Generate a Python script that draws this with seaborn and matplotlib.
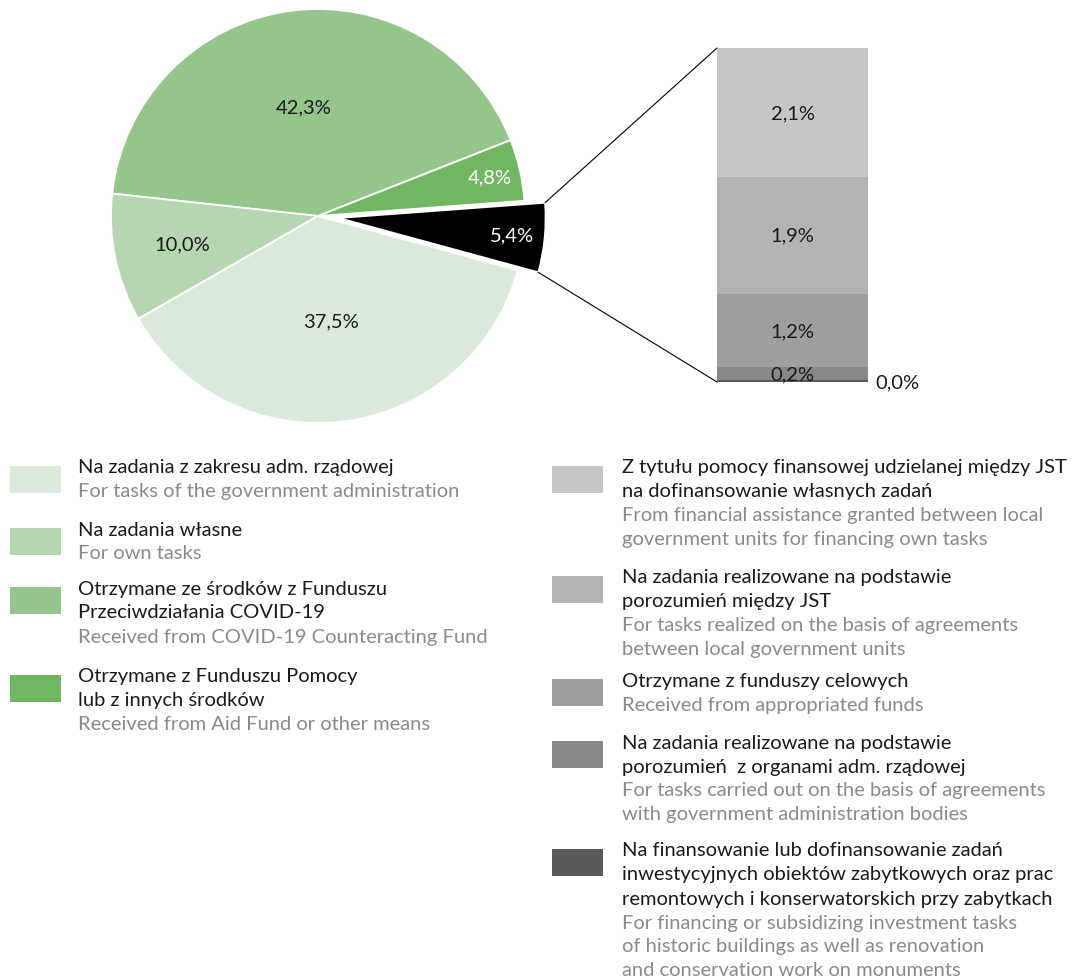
import numpy as np
import matplotlib
matplotlib.use("Agg")
import matplotlib.pyplot as plt
import seaborn as sns
from matplotlib.patches import Rectangle, ConnectionPatch

# main categories, in legend order
pie_pl = [
    ["Na zadania z zakresu adm. rządowej"],
    ["Na zadania własne"],
    ["Otrzymane ze środków z Funduszu", "Przeciwdziałania COVID-19"],
    ["Otrzymane z Funduszu Pomocy", "lub z innych środków"],
]
pie_en = [
    ["For tasks of the government administration"],
    ["For own tasks"],
    ["Received from COVID-19 Counteracting Fund"],
    ["Received from Aid Fund or other means"],
]
pie_values = [37.5, 10.0, 42.3, 4.8]
pie_colors = ["#dae9da", "#b6d5b1", "#94c58b", "#72b663"]
other_value = 5.4

# breakdown of the exploded black slice (top to bottom of the bar)
bar_pl = [
    ["Z tytułu pomocy finansowej udzielanej między JST", "na dofinansowanie własnych zadań"],
    ["Na zadania realizowane na podstawie", "porozumień między JST"],
    ["Otrzymane z funduszy celowych"],
    ["Na zadania realizowane na podstawie", "porozumień  z organami adm. rządowej"],
    ["Na finansowanie lub dofinansowanie zadań", "inwestycyjnych obiektów zabytkowych oraz prac",
     "remontowych i konserwatorskich przy zabytkach"],
]
bar_en = [
    ["From financial assistance granted between local", "government units for financing own tasks"],
    ["For tasks realized on the basis of agreements", "between local government units"],
    ["Received from appropriated funds"],
    ["For tasks carried out on the basis of agreements", "with government administration bodies"],
    ["For financing or subsidizing investment tasks", "of historic buildings as well as renovation",
     "and conservation work on monuments"],
]
bar_values = [2.1, 1.9, 1.2, 0.2, 0.04]
bar_colors = ["#c6c6c6", "#b3b3b3", "#9e9e9e", "#888888", "#58595b"]

sns.set_theme(style="white")
plt.rcParams["font.family"] = ["Lato", "DejaVu Sans"]
FS = 14.5
PL_COL = "#1a1a1a"
EN_COL = "#8a8a8a"

W, H = 1073, 979
fig = plt.figure(figsize=(W / 100, H / 100), dpi=100)


def box(x0, y0, w, h):
    return [x0 / W, 1 - (y0 + h) / H, w / W, h / H]


def pct(v):
    return f"{v:.1f}%".replace(".", ",")


# pie
cx, cy, r = 318, 217, 207
ax_pie = fig.add_axes(box(cx - 1.25 * r, cy - 1.25 * r, 2.5 * r, 2.5 * r))
order = [2, 1, 0, None, 3]
vals = [other_value if i is None else pie_values[i] for i in order]
cols = ["#000000" if i is None else pie_colors[i] for i in order]
explode = [0.1 if i is None else 0 for i in order]
wedges, _ = ax_pie.pie(vals, colors=cols, explode=explode, startangle=21.5,
                       wedgeprops=dict(edgecolor="white", linewidth=1.3))
ax_pie.set_xlim(-1.25, 1.25)
ax_pie.set_ylim(-1.25, 1.25)
ax_pie.set_aspect("equal")

label_dist = [0.53, 0.67, 0.51, 0.84, 0.85]
for w, v, d, i in zip(wedges, vals, label_dist, order):
    mid = np.deg2rad((w.theta1 + w.theta2) / 2)
    x = w.center[0] + d * np.cos(mid)
    y = w.center[1] + d * np.sin(mid)
    tc = "white" if i in (None, 3) else PL_COL
    ax_pie.text(x, y, pct(v), ha="center", va="center", fontsize=FS, color=tc)

# stacked bar for the black slice
total = sum(bar_values)
ax_bar = fig.add_axes(box(717, 49, 151, 334))
bottoms = [sum(bar_values[k + 1:]) for k in range(len(bar_values))]
for v, b, c in zip(bar_values, bottoms, bar_colors):
    ax_bar.bar(0, v, bottom=b, width=1, color=c, linewidth=0)
ax_bar.set_xlim(-0.5, 0.5)
ax_bar.set_ylim(0, total)
ax_bar.axis("off")
for k, (v, b) in enumerate(zip(bar_values, bottoms)):
    if k < len(bar_values) - 1:
        ax_bar.text(0, b + v / 2, pct(v), ha="center", va="center", fontsize=FS, color=PL_COL)
    else:
        ax_bar.text(0.55, b, pct(v), ha="left", va="center", fontsize=FS, color=PL_COL,
                    clip_on=False)

# connector lines
blk = wedges[order.index(None)]
for th, yb in [(blk.theta2, total), (blk.theta1, 0)]:
    t = np.deg2rad(th)
    pa = (blk.center[0] + np.cos(t), blk.center[1] + np.sin(t))
    con = ConnectionPatch(xyA=pa, coordsA=ax_pie.transData, xyB=(-0.5, yb),
                          coordsB=ax_bar.transData, color="black", lw=0.8)
    fig.add_artist(con)

# legends
STEP = 24


def legend_col(x_sw, x_txt, starts, pls, ens, colors):
    for y0, pl, en, c in zip(starts, pls, ens, colors):
        fig.add_artist(Rectangle((x_sw / W, 1 - (y0 + 26) / H), 51 / W, 27 / H,
                                 transform=fig.transFigure, color=c, lw=0))
        y = y0
        for line in pl:
            fig.text(x_txt / W, 1 - y / H, line, ha="left", va="center", fontsize=FS, color=PL_COL)
            y += STEP
        for line in en:
            fig.text(x_txt / W, 1 - y / H, line, ha="left", va="center", fontsize=FS, color=EN_COL)
            y += STEP


legend_col(10, 78, [468, 530, 589, 677], pie_pl, pie_en, pie_colors)
legend_col(552, 622, [468, 578, 681, 743, 851], bar_pl, bar_en, bar_colors)

fig.savefig("out.png", dpi=100, facecolor="white")
